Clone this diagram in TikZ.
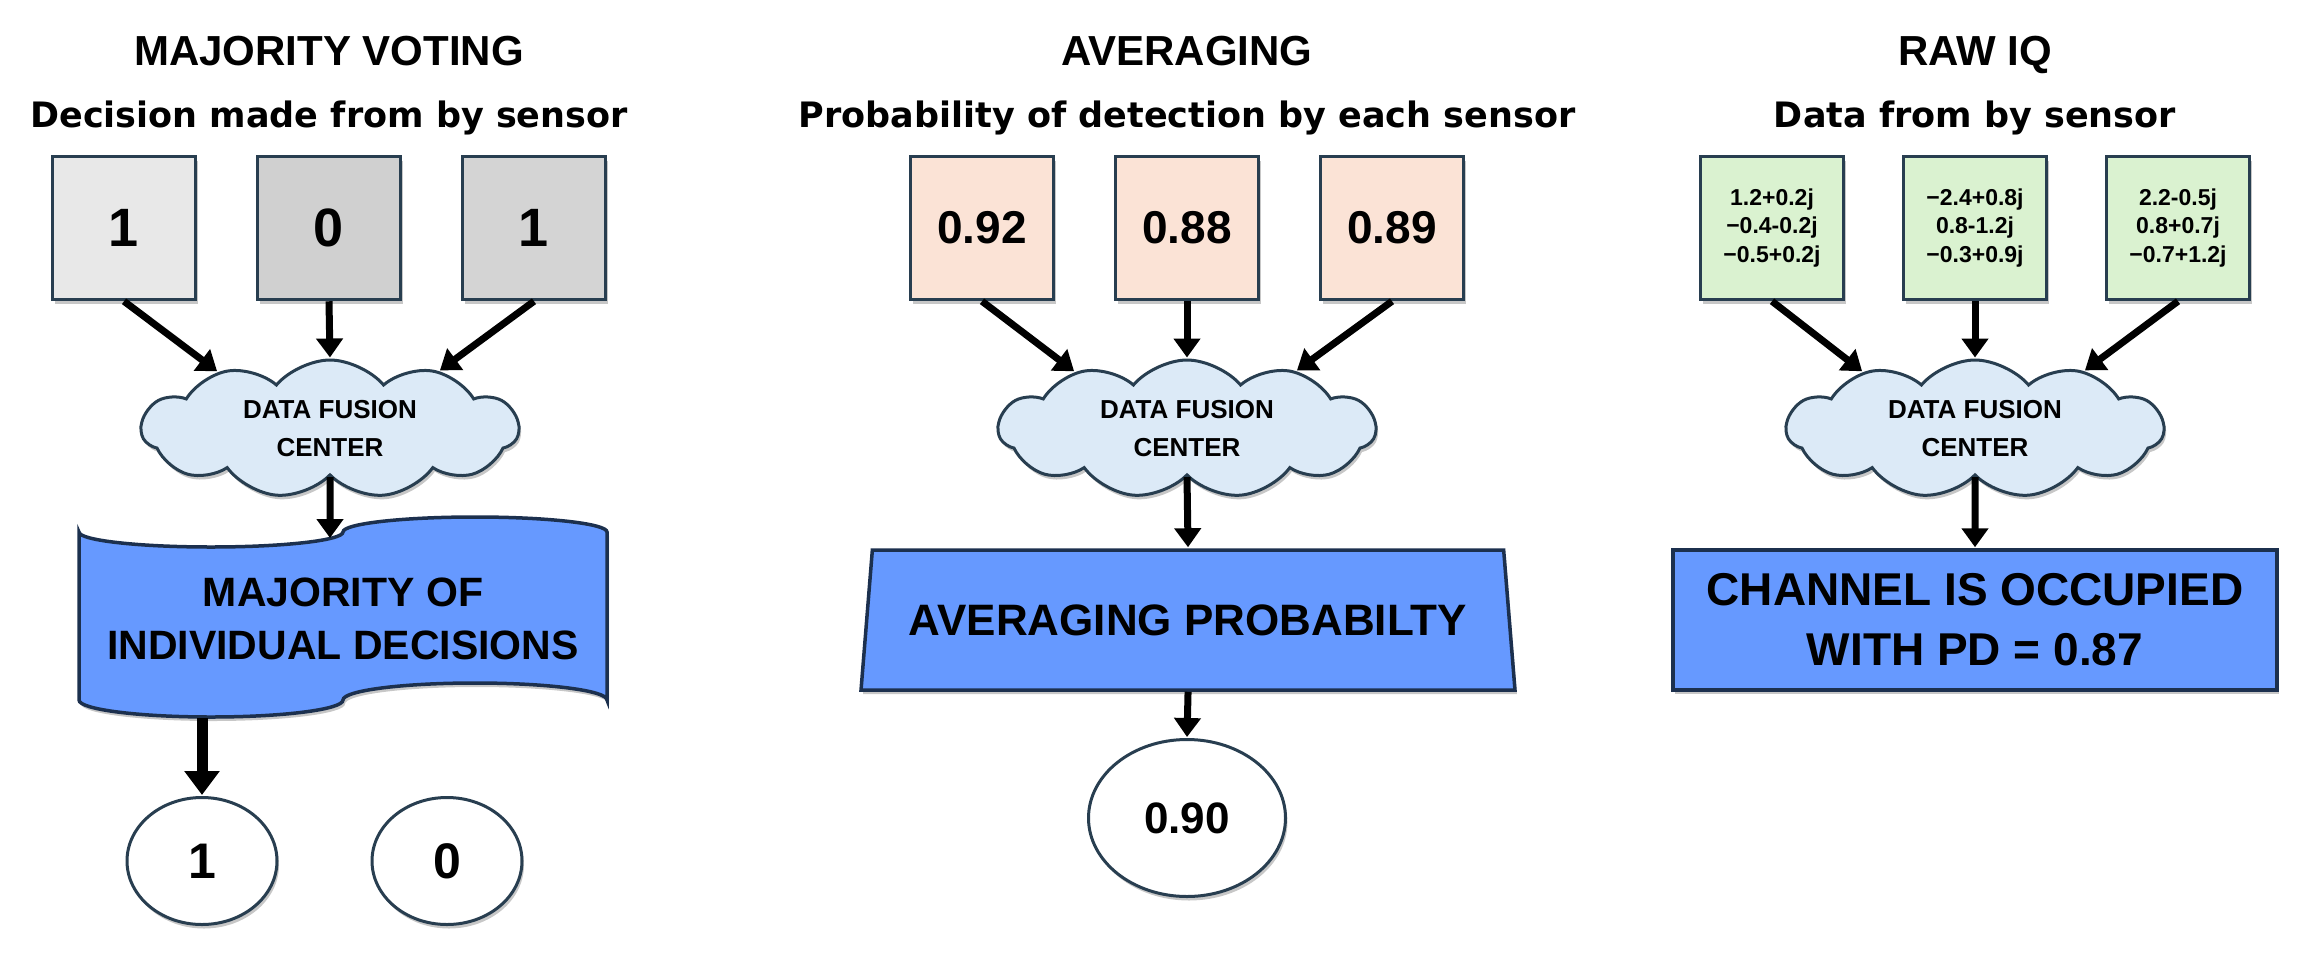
\documentclass[tikz,border=0pt]{standalone}
\usepackage{fontspec}
\setmainfont{Liberation Sans}
\newfontfamily\subfont{DejaVu Sans}
\usepackage{tikz}
\usetikzlibrary{arrows.meta,positioning,shapes.geometric,shapes.symbols,shadows}

\definecolor{edgecol}{RGB}{40,62,80}
\definecolor{greyA}{RGB}{232,232,232}
\definecolor{greyB}{RGB}{208,208,208}
\definecolor{greyC}{RGB}{212,212,212}
\definecolor{peach}{RGB}{251,227,214}
\definecolor{mint}{RGB}{218,242,208}
\definecolor{cloudblue}{RGB}{220,234,247}
\definecolor{resultblue}{RGB}{102,153,255}
\definecolor{resultedge}{RGB}{28,48,78}

\begin{document}
\begin{tikzpicture}[x=1pt,y=-1pt,node distance=205pt,
  castshadow/.style={drop shadow={shadow xshift=2pt,shadow yshift=-4pt,fill=black!22,opacity=1}},
  title/.style={font=\fontsize{42}{50}\selectfont\bfseries,anchor=base},
  subtitle/.style={font=\subfont\fontsize{35}{40}\selectfont\bfseries,anchor=base},
  sensor/.style={draw=edgecol,line width=3.5pt,minimum size=143pt,inner sep=0pt,castshadow,font=\fontsize{54}{60}\selectfont\bfseries},
  iq/.style={sensor,fill=mint,align=center,font=\fontsize{23}{28.5}\selectfont\bfseries},
  fusion/.style={cloud,cloud puffs=11,cloud puff arc=100,cloud ignores aspect,draw=edgecol,line width=3pt,fill=cloudblue,minimum width=377pt,minimum height=138pt,inner sep=0pt,align=center,font=\fontsize{26}{38}\selectfont\bfseries,castshadow},
  result/.style={draw=resultedge,line width=3.5pt,fill=resultblue,align=center,castshadow},
  outcome/.style={ellipse,draw=edgecol,line width=3pt,fill=white,inner sep=0pt,castshadow},
  feed/.style={-{Triangle[length=19pt,width=26pt]},line width=7pt,shorten >=1pt}
]
\useasboundingbox (0,0) rectangle (2300,956);

  \node[title]                  (t1) at (329,65)   {MAJORITY VOTING};
  \node[subtitle]               (s1) at (329,127)  {Decision made from by sensor};
  \node[sensor,fill=greyB]      (m2) at (329,228)  {0};
  \node[sensor,fill=greyA]      (m1) [left of=m2]  {1};
  \node[sensor,fill=greyC]      (m3) [right of=m2] {1};
  \node[fusion]                 (f1) at (330,429)  {DATA FUSION\\CENTER};

  \draw[result] (79,532) arc[start angle=180,end angle=360,x radius=132pt,y radius=15pt]
        arc[start angle=180,end angle=0,x radius=132pt,y radius=15pt]
        -- (607,700) arc[start angle=0,end angle=180,x radius=132pt,y radius=17pt]
        arc[start angle=0,end angle=-180,x radius=132pt,y radius=17pt] -- cycle;
  \node[align=center,font=\fontsize{41}{53}\selectfont\bfseries] (tape) at (343,619) {MAJORITY OF\\INDIVIDUAL DECISIONS};
  \coordinate (tapein)  at (330,539);
  \coordinate (tapeout) at (202,718);

  \node[outcome,minimum width=150pt,minimum height=127pt,font=\fontsize{50}{56}\selectfont\bfseries] (o1) at (202,861) {1};
  \node[outcome,minimum width=150pt,minimum height=127pt,font=\fontsize{50}{56}\selectfont\bfseries] (o0) [right of=o1,node distance=245pt] {0};

  \node[title]                  (t2) at (1187,65)  {AVERAGING};
  \node[subtitle]               (s2) at (1187,127) {Probability of detection by each sensor};
  \node[sensor,fill=peach,font=\fontsize{46}{50}\selectfont\bfseries] (p2) at (1187,228) {0.88};
  \node[sensor,fill=peach,font=\fontsize{46}{50}\selectfont\bfseries] (p1) [left of=p2]  {0.92};
  \node[sensor,fill=peach,font=\fontsize{46}{50}\selectfont\bfseries] (p3) [right of=p2] {0.89};
  \node[fusion]                 (f2) at (1187,429) {DATA FUSION\\CENTER};
  \node[result,trapezium,trapezium angle=75,trapezium stretches=true,minimum width=654pt,minimum height=140pt,font=\fontsize{44}{50}\selectfont\bfseries] (avg) at (1188,620) {AVERAGING PROBABILTY};
  \node[outcome,minimum width=197pt,minimum height=157pt,font=\fontsize{44}{50}\selectfont\bfseries] (o2) at (1187,818) {0.90};

  \node[title]                  (t3) at (1975,65)  {RAW IQ};
  \node[subtitle]               (s3) at (1975,127) {Data from by sensor};
  \node[iq]                     (q2) at (1975,228) {−2.4+0.8j\\0.8-1.2j\\−0.3+0.9j};
  \node[iq]                     (q1) [left of=q2,node distance=203pt]  {1.2+0.2j\\−0.4-0.2j\\−0.5+0.2j};
  \node[iq]                     (q3) [right of=q2,node distance=203pt] {2.2-0.5j\\0.8+0.7j\\−0.7+1.2j};
  \node[fusion]                 (f3) at (1975,429) {DATA FUSION\\CENTER};
  \node[result,minimum width=604pt,minimum height=140pt,font=\fontsize{46}{60}\selectfont\bfseries] (occ) at (1975,620) {CHANNEL IS OCCUPIED\\WITH PD = 0.87};

  \path [feed]
        (m1.south) edge (f1.153)
        (m2.south) edge (f1.north)
        (m3.south) edge (f1.28)
        (p1.south) edge (f2.153)
        (p2.south) edge (f2.north)
        (p3.south) edge (f2.28)
        (q1.south) edge (f3.153)
        (q2.south) edge (f3.north)
        (q3.south) edge (f3.28)
        (f1.south) edge (tapein)
        (f2.south) edge (avg.north)
        (avg.south) edge (o2.north)
        (f3.south) edge (occ.north);
  \path [feed,line width=11pt,-{Triangle[length=24pt,width=34pt]}]
        (tapeout) edge (o1.north);
\end{tikzpicture}
\end{document}
